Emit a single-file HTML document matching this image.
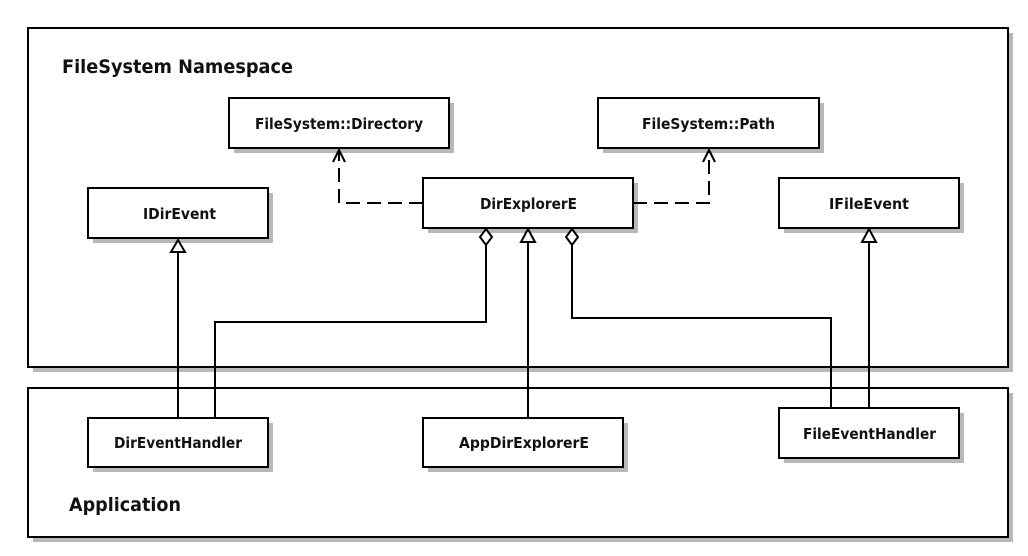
<!DOCTYPE html>
<html><head><meta charset="utf-8"><style>
html,body{margin:0;padding:0;background:#fff;}
svg{display:block;}
text{font-family:"DejaVu Sans","Liberation Sans",sans-serif;font-weight:bold;fill:#111;}
</style></head><body>
<svg width="1028" height="556" viewBox="0 0 1028 556" xmlns="http://www.w3.org/2000/svg">
<g fill="#b8b8b8">
<rect x="33" y="33" width="980" height="339"/>
<rect x="33" y="393" width="980" height="149"/>
</g>
<rect x="28" y="28" width="980" height="339" fill="#fff" stroke="#000" stroke-width="2"/>
<rect x="28" y="388" width="980" height="149" fill="#fff" stroke="#000" stroke-width="2"/>
<text x="62" y="73" font-size="19" textLength="231" lengthAdjust="spacingAndGlyphs">FileSystem Namespace</text>
<text x="69" y="511" font-size="19" textLength="112" lengthAdjust="spacingAndGlyphs">Application</text>

<g fill="#b8b8b8">
<rect x="234" y="103" width="220" height="50"/>
<rect x="603" y="103" width="221" height="50"/>
<rect x="428" y="183" width="210" height="50"/>
<rect x="93" y="193" width="180" height="50"/>
<rect x="784" y="183" width="180" height="50"/>
<rect x="93" y="423" width="180" height="49"/>
<rect x="428" y="423" width="200" height="49"/>
<rect x="784" y="413" width="180" height="50"/>
</g>
<g fill="#fff" stroke="#000" stroke-width="2">
<rect x="229" y="98" width="220" height="50"/>
<rect x="598" y="98" width="221" height="50"/>
<rect x="423" y="178" width="210" height="50"/>
<rect x="88" y="188" width="180" height="50"/>
<rect x="779" y="178" width="180" height="50"/>
<rect x="88" y="418" width="180" height="49"/>
<rect x="423" y="418" width="200" height="49"/>
<rect x="779" y="408" width="180" height="50"/>
</g>
<g font-size="15">
<text x="255" y="129" textLength="168" lengthAdjust="spacingAndGlyphs">FileSystem::Directory</text>
<text x="642" y="129" textLength="133" lengthAdjust="spacingAndGlyphs">FileSystem::Path</text>
<text x="480" y="209" textLength="97" lengthAdjust="spacingAndGlyphs">DirExplorerE</text>
<text x="143" y="219" textLength="73" lengthAdjust="spacingAndGlyphs">IDirEvent</text>
<text x="829" y="209" textLength="80" lengthAdjust="spacingAndGlyphs">IFileEvent</text>
<text x="114" y="448" textLength="128" lengthAdjust="spacingAndGlyphs">DirEventHandler</text>
<text x="459" y="448" textLength="130" lengthAdjust="spacingAndGlyphs">AppDirExplorerE</text>
<text x="803" y="439" textLength="133" lengthAdjust="spacingAndGlyphs">FileEventHandler</text>
</g>

<g fill="none" stroke="#000" stroke-width="2">
<path d="M423 203 H339 V150" stroke-dasharray="14,7"/>
<path d="M633 203 H709 V150" stroke-dasharray="14,7"/>
<path d="M333 162 L339 150 L345 162"/>
<path d="M703 162 L709 150 L715 162"/>
<path d="M178 252 V418"/>
<path d="M486 245 V322 H215 V418"/>
<path d="M528 242 V418"/>
<path d="M572 245 V318 H831 V408"/>
<path d="M869 242 V408"/>
</g>
<g fill="#fff" stroke="#000" stroke-width="2">
<path d="M178 240 L185 252 L171 252 Z"/>
<path d="M528 229 L535 242 L521 242 Z"/>
<path d="M869 229 L876 242 L862 242 Z"/>
<path d="M486 229 L492 237 L486 245 L480 237 Z"/>
<path d="M572 229 L578 237 L572 245 L566 237 Z"/>
</g>
</svg>
</body></html>
